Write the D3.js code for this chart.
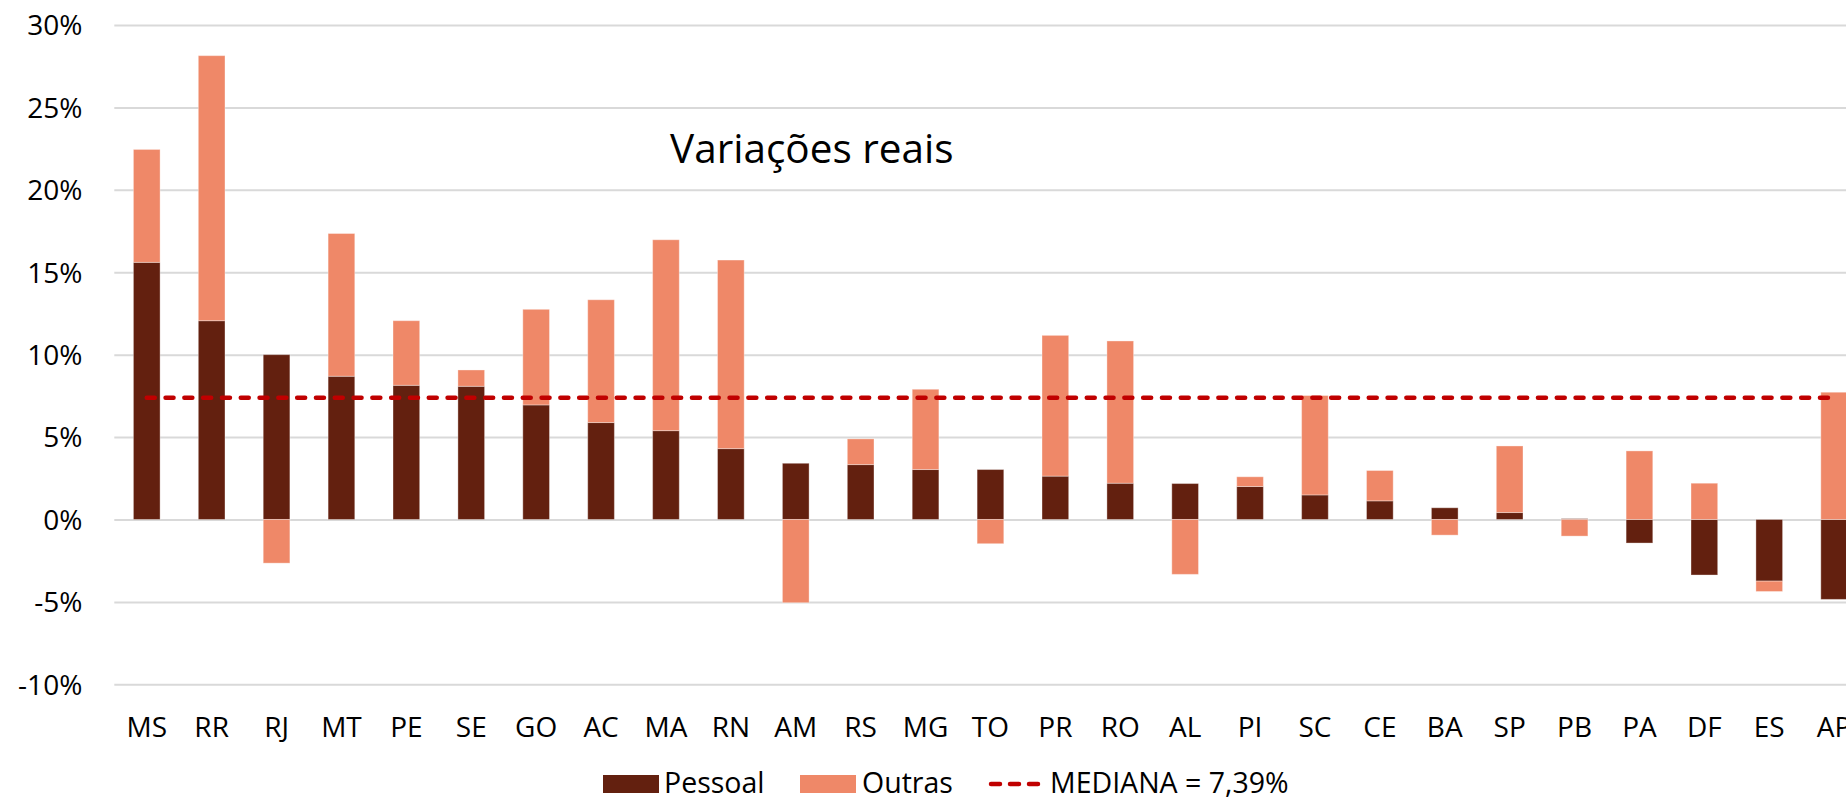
<!DOCTYPE html>
<html>
<head>
<meta charset="utf-8">
<script src="https://cdn.jsdelivr.net/npm/d3@7"></script>
<style>
  html, body { margin: 0; padding: 0; background: #fff; overflow: hidden; }
  text { font-family: "Open Sans", "Noto Sans", sans-serif; fill: #000; }
</style>
</head>
<body>
<svg id="chart" width="1846" height="802"></svg>
<script>
const categories = ["MS","RR","RJ","MT","PE","SE","GO","AC","MA","RN","AM","RS","MG","TO","PR","RO","AL","PI","SC","CE","BA","SP","PB","PA","DF","ES","AP"];
const pessoal = [15.6, 12.06, 10.0, 8.69, 8.14, 8.08, 6.95, 5.88, 5.39, 4.30, 3.41, 3.33, 3.03, 3.03, 2.63, 2.20, 2.18, 2.00, 1.49, 1.13, 0.71, 0.42, 0.05, -1.43, -3.37, -3.74, -4.85];
const outras = [6.85, 16.08, -2.65, 8.66, 3.92, 0.99, 5.80, 7.45, 11.58, 11.44, -5.05, 1.56, 4.87, -1.47, 8.54, 8.63, -3.33, 0.59, 6.03, 1.84, -0.95, 4.04, -1.01, 4.16, 2.20, -0.63, 7.72];
const mediana = 7.39;
const yTicks = [-10, -5, 0, 5, 10, 15, 20, 25, 30];
const seriesNames = ["Pessoal", "Outras"];
const medianaLabel = "MEDIANA = 7,39%";
const title = "Variações reais";

const colors = { Pessoal: "#63200F", Outras: "#EF8868", mediana: "#C00000", grid: "#D9D9D9" };

const svg = d3.select("#chart");

const x = d3.scaleBand()
  .domain(categories)
  .range([114.3, 114.3 + 27 * 64.9])
  .paddingInner(0.589)
  .paddingOuter(0.2945);

const y = d3.scaleLinear().domain([-10, 30]).range([684.3, 25]);

// gridlines
const yAxis = d3.axisLeft(y)
  .tickValues(yTicks)
  .tickSize(-(1846 - 114.3))
  .tickPadding(0)
  .tickFormat(d => d + "%");

const gy = svg.append("g").attr("transform", "translate(114.3,0)").call(yAxis);
gy.select(".domain").remove();
gy.selectAll(".tick line").attr("stroke", colors.grid).attr("stroke-width", 2);
gy.selectAll(".tick text")
  .attr("x", -32)
  .attr("dy", "0.35em")
  .style("font-size", "28px")
  .style("font-family", "'Open Sans', sans-serif")
  .attr("fill", "#000");

// data for stacking
const rows = categories.map((c, i) => ({ cat: c, Pessoal: pessoal[i], Outras: outras[i] }));
const stack = d3.stack().keys(seriesNames).offset(d3.stackOffsetDiverging);
const stacked = stack(rows);

svg.append("g").selectAll("g")
  .data(stacked)
  .join("g")
  .attr("fill", d => colors[d.key])
  .selectAll("rect")
  .data(d => d)
  .join("rect")
  .attr("x", d => x(d.data.cat))
  .attr("width", x.bandwidth())
  .attr("y", d => y(Math.max(d[0], d[1])))
  .attr("height", d => Math.abs(y(d[0]) - y(d[1])))
  .attr("stroke", "rgba(255,255,255,0.35)")
  .attr("stroke-width", 1);

// median line
const medLine = d3.line().x(d => x(d) + x.bandwidth() / 2).y(() => y(mediana));
svg.append("path")
  .datum([categories[0], categories[categories.length - 1]])
  .attr("d", medLine)
  .attr("fill", "none")
  .attr("stroke", colors.mediana)
  .attr("stroke-width", 4.5)
  .attr("stroke-linecap", "round")
  .attr("stroke-dasharray", "8 10.8");

// x labels
const xAxis = d3.axisBottom(x).tickSize(0).tickPadding(0);
const gx = svg.append("g").attr("transform", "translate(0,737)").call(xAxis);
gx.select(".domain").remove();
gx.selectAll(".tick text")
  .attr("y", 0)
  .attr("dy", 0)
  .style("font-size", "28px")
  .style("font-family", "'Open Sans', sans-serif")
  .attr("fill", "#000");

// title
svg.append("text")
  .attr("x", 670)
  .attr("y", 163)
  .style("font-size", "40.5px")
  .text(title);

// legend
const legend = svg.append("g");
const legY = 793;
legend.append("rect").attr("x", 603).attr("y", 775).attr("width", 56).attr("height", 18).attr("fill", colors.Pessoal);
legend.append("text").attr("x", 664).attr("y", legY).style("font-size", "28.5px").text(seriesNames[0]);
legend.append("rect").attr("x", 800).attr("y", 775).attr("width", 56).attr("height", 18).attr("fill", colors.Outras);
legend.append("text").attr("x", 862).attr("y", legY).style("font-size", "28.5px").text(seriesNames[1]);
legend.append("line")
  .attr("x1", 991).attr("x2", 1042).attr("y1", 784).attr("y2", 784)
  .attr("stroke", colors.mediana).attr("stroke-width", 4.5)
  .attr("stroke-linecap", "round").attr("stroke-dasharray", "9 10");
legend.append("text").attr("x", 1050).attr("y", legY).style("font-size", "28.5px").text(medianaLabel);
</script>
</body>
</html>
